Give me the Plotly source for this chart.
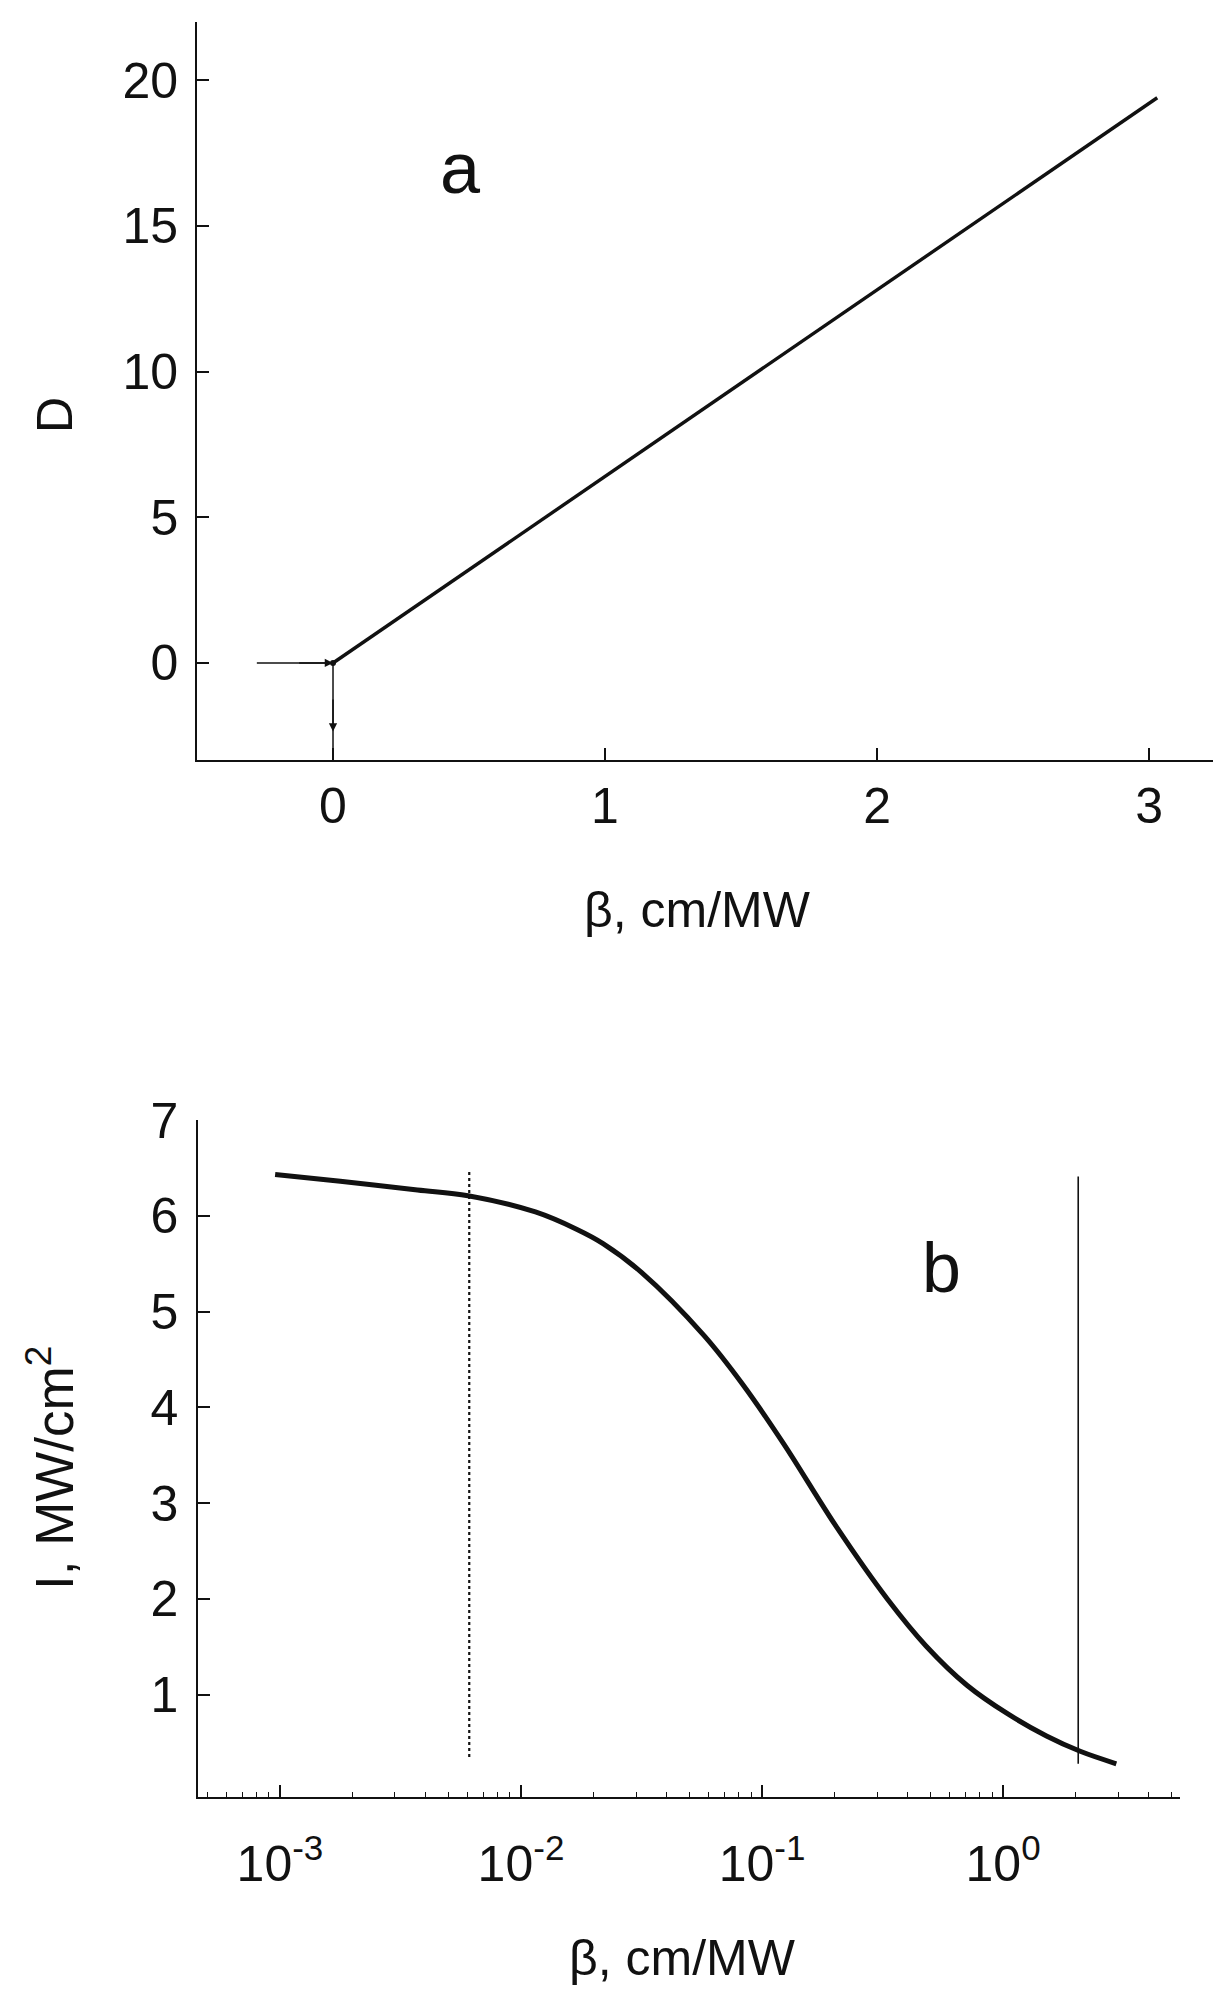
import plotly.graph_objects as go

# ---- panel a: D versus beta (linear axes) ----
beta_a = [0.0, 3.03]
D_a = [0.0, 19.4]
beta_lead = [-0.28, 0.0]
D_lead = [0.0, 0.0]
beta_drop = [0.0, 0.0]
D_drop = [0.0, -3.33]
xticks_a = [0, 1, 2, 3]
yticks_a = [0, 5, 10, 15, 20]

# ---- panel b: I versus beta (log beta axis) ----
beta_b = [0.000955, 0.00178, 0.00372, 0.00603, 0.01148, 0.0170, 0.0219, 0.0316,
          0.0575, 0.0832, 0.123, 0.204, 0.331, 0.479, 0.708, 1.047, 1.514, 2.089, 2.95]
I_b = [6.43, 6.36, 6.27, 6.21, 6.04, 5.86, 5.71, 5.41,
       4.75, 4.24, 3.62, 2.75, 2.00, 1.51, 1.10, 0.80, 0.57, 0.41, 0.28]
beta_dotted = [0.0061, 0.0061]
I_dotted = [0.35, 6.46]
beta_solid = [2.05, 2.05]
I_solid = [0.28, 6.41]
xticks_b = [0.001, 0.01, 0.1, 1]
xticktext_b = ["10<sup>-3</sup>", "10<sup>-2</sup>", "10<sup>-1</sup>", "10<sup>0</sup>"]
yticks_b = [1, 2, 3, 4, 5, 6, 7]
minor_b = [m * 10.0 ** e for e in (-4, -3, -2, -1, 0) for m in range(2, 10)]

W, H = 1228, 1989
FONT = "Liberation Sans, Arial, sans-serif"
INK = "#111111"

fig = go.Figure()

fig.add_trace(go.Scatter(x=beta_lead, y=D_lead, mode="lines",
                         line=dict(color=INK, width=1.5), xaxis="x", yaxis="y"))
fig.add_trace(go.Scatter(x=beta_drop, y=D_drop, mode="lines",
                         line=dict(color=INK, width=1.5), xaxis="x", yaxis="y"))
fig.add_trace(go.Scatter(x=beta_a, y=D_a, mode="lines",
                         line=dict(color=INK, width=3.4), xaxis="x", yaxis="y"))
fig.add_trace(go.Scatter(x=[beta_a[0]], y=[D_a[0]], mode="markers",
                         marker=dict(color=INK, size=6), xaxis="x", yaxis="y"))

fig.add_trace(go.Scatter(x=beta_dotted, y=I_dotted, mode="lines",
                         line=dict(color=INK, width=2.2, dash="dot"), xaxis="x2", yaxis="y2"))
fig.add_trace(go.Scatter(x=beta_solid, y=I_solid, mode="lines",
                         line=dict(color=INK, width=1.6), xaxis="x2", yaxis="y2"))
fig.add_trace(go.Scatter(x=beta_b, y=I_b, mode="lines",
                         line=dict(color=INK, width=5, shape="spline", smoothing=1.0),
                         xaxis="x2", yaxis="y2"))

axis_common = dict(showline=True, linecolor=INK, linewidth=1.6, showgrid=False,
                   zeroline=False, automargin=False, ticks="inside", ticklen=12,
                   tickwidth=1.5, tickcolor=INK,
                   tickfont=dict(family=FONT, size=50, color=INK))

fig.update_layout(
    width=W, height=H, margin=dict(l=0, r=0, t=0, b=0, autoexpand=False),
    paper_bgcolor="white", plot_bgcolor="white", showlegend=False,
    xaxis=dict(domain=[197 / W, 1213 / W], range=[-0.5, 3.235], anchor="y",
               tickvals=xticks_a, ticklabelstandoff=1, **axis_common),
    yaxis=dict(domain=[1 - 760 / H, 1 - 22 / H], range=[-3.33, 22.0], anchor="x",
               tickvals=yticks_a, ticklabelstandoff=7, **axis_common),
    xaxis2=dict(domain=[198 / W, 1180 / W], range=[-3.34, 0.734], type="log", anchor="y2",
                tickvals=xticks_b, ticktext=xticktext_b, ticklabelstandoff=22,
                minor=dict(tickvals=minor_b, ticks="inside", ticklen=5,
                           tickwidth=1.2, tickcolor=INK, showgrid=False),
                **axis_common),
    yaxis2=dict(domain=[1 - 1797 / H, 1 - 1120 / H], range=[-0.067, 7], anchor="x2",
                tickvals=yticks_b, ticklabelstandoff=8, **axis_common),
)

def label(text, x, y, size=50, angle=0):
    fig.add_annotation(text=text, x=x / W, y=1 - y / H, xref="paper", yref="paper",
                       showarrow=False, textangle=angle, xanchor="center", yanchor="middle",
                       font=dict(family=FONT, size=size, color=INK))

label("D", 55, 415, angle=-90)
label("β, cm/MW", 697, 910)
label("I, MW/cm<sup>2</sup>", 50, 1468, size=53, angle=-90)
label("β, cm/MW", 682, 1958)
label("a", 460, 168, size=72)
label("b", 941, 1268, size=70)

# arrowheads on the lead-in and drop lines of panel a
fig.add_annotation(x=0, y=0, ax=-0.13, ay=0, xref="x", yref="y", axref="x", ayref="y",
                   text="", showarrow=True, arrowhead=2, arrowsize=1.1, arrowwidth=1.5,
                   arrowcolor=INK)
fig.add_annotation(x=0, y=-2.35, ax=0, ay=-1.2, xref="x", yref="y", axref="x", ayref="y",
                   text="", showarrow=True, arrowhead=2, arrowsize=1.1, arrowwidth=1.5,
                   arrowcolor=INK)

fig.write_html("out.html")
